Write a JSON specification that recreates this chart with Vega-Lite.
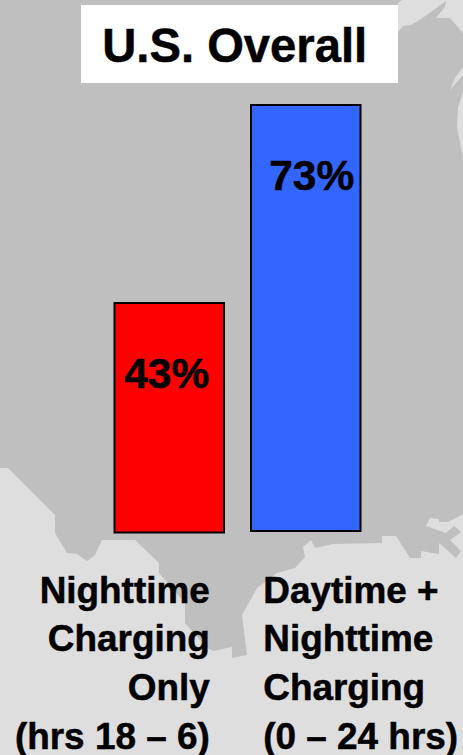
{
  "$schema": "https://vega.github.io/schema/vega-lite/v6.json",
  "width": 463,
  "height": 755,
  "padding": 0,
  "autosize": {"type": "fit", "contains": "padding"},
  "background": "#dedede",
  "view": {"stroke": null},
  "datasets": {
    "bars": [
      {"group": "Nighttime", "share": 43, "base": 8.23, "label": "43%", "caption": "Nighttime\nCharging\nOnly\n(hrs 18 – 6)"},
      {"group": "Daytime", "share": 73, "base": 8.45, "label": "73%", "caption": "Daytime +\nNighttime\nCharging\n(0 – 24 hrs)"}
    ],
    "heading": [{"text": "U.S. Overall"}]
  },
  "resolve": {"scale": {"x": "independent", "y": "independent", "color": "independent"}},
  "layer": [
    {
      "data": {
        "values": [
          {
            "type": "Feature",
            "properties": {"name": "land"},
            "geometry": {
              "type": "Polygon",
              "coordinates": [[
                [0,0],[402,0],[398,3],[398,32],[403,26],[411,25],[421,19],[431,12],[446,1],[445,7],[436,18],[450,18],[463,33],
                [463,67],[455,78],[450,90],[463,75],[463,92],[458,107],[457,127],[463,157],
                [463,514],[456,518],[448,522],[439,522],[439,519],[430,518],[426,526],[446,533],[454,526],[461,532],[450,540],[461,551],[456,558],[439,543],[439,554],[421,551],[421,558],[410,558],[396,536],[382,536],[382,543],[333,544],[315,548],[311,540],[303,547],[305,557],[295,568],[277,573],[257,588],[242,615],[247,655],[232,658],[232,647],[213,651],[207,648],[185,623],[185,603],[159,573],[159,563],[135,540],[102,540],[95,555],[87,561],[77,554],[67,553],[55,533],[55,515],[8,468],[0,468],[0,0]
              ]]
            }
          }
        ],
        "format": {"type": "json"}
      },
      "projection": {"type": "identity", "scale": 1, "translate": [0, 0]},
      "mark": {"type": "geoshape", "fill": "#bfbfbf", "stroke": null}
    },
    {
      "data": {"name": "heading"},
      "mark": {"type": "rect", "fill": "#ffffff"},
      "encoding": {
        "x": {"datum": 81, "type": "quantitative", "scale": {"domain": [0, 463], "range": [0, 463]}, "axis": null},
        "x2": {"datum": 398},
        "y": {"datum": 5, "type": "quantitative", "scale": {"domain": [0, 755], "range": [0, 755]}, "axis": null},
        "y2": {"datum": 83}
      }
    },
    {
      "data": {"name": "heading"},
      "mark": {"type": "text", "font": "Liberation Sans", "fontWeight": "bold", "fontSize": 47.2, "color": "#000000", "stroke": "#000000", "strokeWidth": 0.5, "align": "center", "baseline": "alphabetic"},
      "encoding": {
        "x": {"datum": 234.7, "type": "quantitative", "scale": {"domain": [0, 463], "range": [0, 463]}, "axis": null},
        "y": {"datum": 61.7, "type": "quantitative", "scale": {"domain": [0, 755], "range": [0, 755]}, "axis": null},
        "text": {"field": "text"}
      }
    },
    {
      "data": {"name": "bars"},
      "mark": {"type": "bar", "stroke": "#000000", "strokeWidth": 2},
      "encoding": {
        "x": {"field": "group", "type": "nominal", "sort": ["Nighttime", "Daytime"], "scale": {"type": "band", "range": [114.5, 360.5], "paddingInner": 0.198, "paddingOuter": 0}, "axis": null},
        "y": {"field": "share", "type": "quantitative", "scale": {"domain": [-25.48, 88.91], "range": [755, 0], "zero": false, "nice": false}, "axis": null},
        "y2": {"field": "base"},
        "color": {"field": "group", "type": "nominal", "scale": {"domain": ["Nighttime", "Daytime"], "range": ["#ff0000", "#3366ff"]}, "legend": null}
      }
    },
    {
      "data": {"name": "bars"},
      "transform": [{"filter": "datum.group === 'Nighttime'"}],
      "layer": [
        {
          "mark": {"type": "text", "font": "Liberation Sans", "fontWeight": "bold", "fontSize": 42.5, "color": "#000000", "stroke": "#000000", "strokeWidth": 0.5, "align": "center", "baseline": "alphabetic", "dx": -2.5, "dy": 85},
          "encoding": {
            "x": {"field": "group", "type": "nominal", "scale": {"type": "band", "domain": ["Nighttime", "Daytime"], "range": [114.5, 360.5], "paddingInner": 0.198, "paddingOuter": 0}, "axis": null},
            "y": {"field": "share", "type": "quantitative", "scale": {"domain": [-25.48, 88.91], "range": [755, 0], "zero": false, "nice": false}, "axis": null},
            "text": {"field": "label"}
          }
        },
        {
          "mark": {"type": "text", "font": "Liberation Sans", "fontWeight": "bold", "fontSize": 36.9, "color": "#000000", "stroke": "#000000", "strokeWidth": 0.5, "align": "right", "baseline": "alphabetic", "lineBreak": "\n", "lineHeight": 48.8, "dx": 40.5, "dy": 70},
          "encoding": {
            "x": {"field": "group", "type": "nominal", "scale": {"type": "band", "domain": ["Nighttime", "Daytime"], "range": [114.5, 360.5], "paddingInner": 0.198, "paddingOuter": 0}, "axis": null},
            "y": {"field": "base", "type": "quantitative", "scale": {"domain": [-25.48, 88.91], "range": [755, 0], "zero": false, "nice": false}, "axis": null},
            "text": {"field": "caption"}
          }
        }
      ],
      "resolve": {"scale": {"x": "independent", "y": "independent"}}
    },
    {
      "data": {"name": "bars"},
      "transform": [{"filter": "datum.group === 'Daytime'"}],
      "layer": [
        {
          "mark": {"type": "text", "font": "Liberation Sans", "fontWeight": "bold", "fontSize": 42.5, "color": "#000000", "stroke": "#000000", "strokeWidth": 0.5, "align": "center", "baseline": "alphabetic", "dx": 6, "dy": 84.5},
          "encoding": {
            "x": {"field": "group", "type": "nominal", "scale": {"type": "band", "domain": ["Nighttime", "Daytime"], "range": [114.5, 360.5], "paddingInner": 0.198, "paddingOuter": 0}, "axis": null},
            "y": {"field": "share", "type": "quantitative", "scale": {"domain": [-25.48, 88.91], "range": [755, 0], "zero": false, "nice": false}, "axis": null},
            "text": {"field": "label"}
          }
        },
        {
          "mark": {"type": "text", "font": "Liberation Sans", "fontWeight": "bold", "fontSize": 36.9, "color": "#000000", "stroke": "#000000", "strokeWidth": 0.5, "align": "left", "baseline": "alphabetic", "lineBreak": "\n", "lineHeight": 48.8, "dx": -42.5, "dy": 71.5},
          "encoding": {
            "x": {"field": "group", "type": "nominal", "scale": {"type": "band", "domain": ["Nighttime", "Daytime"], "range": [114.5, 360.5], "paddingInner": 0.198, "paddingOuter": 0}, "axis": null},
            "y": {"field": "base", "type": "quantitative", "scale": {"domain": [-25.48, 88.91], "range": [755, 0], "zero": false, "nice": false}, "axis": null},
            "text": {"field": "caption"}
          }
        }
      ],
      "resolve": {"scale": {"x": "independent", "y": "independent"}}
    }
  ]
}
